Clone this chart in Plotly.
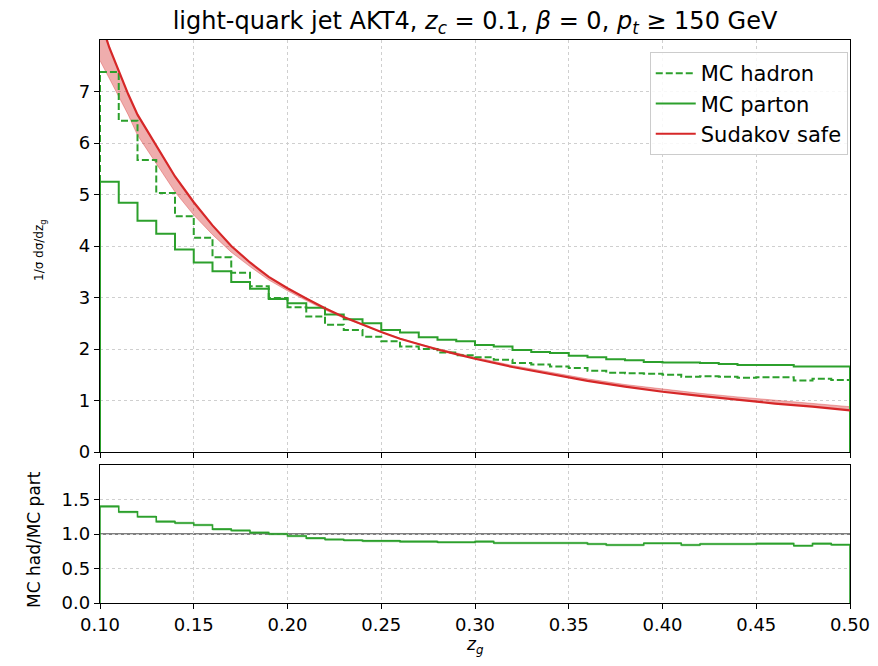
import plotly.graph_objects as go

# ---------------- data ----------------
bin_lo = [round(0.10 + 0.01 * i, 2) for i in range(40)]  # bin lower edges, width 0.01
bin_hi_last = 0.50

mc_hadron = [7.38, 6.43, 5.67, 5.03, 4.58, 4.16, 3.78, 3.48, 3.22, 2.99,
             2.81, 2.63, 2.47, 2.37, 2.24, 2.15, 2.05, 2.00, 1.93, 1.88,
             1.84, 1.79, 1.73, 1.70, 1.66, 1.63, 1.58, 1.54, 1.53, 1.52,
             1.50, 1.46, 1.47, 1.46, 1.44, 1.45, 1.45, 1.39, 1.42, 1.40]

mc_parton = [5.25, 4.84, 4.49, 4.24, 3.93, 3.68, 3.51, 3.30, 3.17, 2.97,
             2.89, 2.80, 2.67, 2.58, 2.50, 2.37, 2.32, 2.23, 2.18, 2.15,
             2.08, 2.05, 1.98, 1.94, 1.92, 1.87, 1.84, 1.80, 1.78, 1.75,
             1.74, 1.74, 1.73, 1.71, 1.69, 1.69, 1.69, 1.66, 1.66, 1.66]

ratio_had_part = [1.40, 1.32, 1.25, 1.18, 1.16, 1.13, 1.07, 1.05, 1.02, 1.00,
                  0.97, 0.94, 0.92, 0.91, 0.90, 0.90, 0.89, 0.89, 0.88, 0.88,
                  0.89, 0.87, 0.87, 0.87, 0.87, 0.87, 0.855, 0.84, 0.84, 0.865,
                  0.865, 0.84, 0.855, 0.855, 0.855, 0.86, 0.86, 0.83, 0.86, 0.845]

z_theory = [0.100, 0.105, 0.110, 0.115, 0.120, 0.130, 0.140, 0.150, 0.160, 0.170,
            0.180, 0.190, 0.200, 0.210, 0.220, 0.230, 0.240, 0.250, 0.260, 0.270,
            0.280, 0.290, 0.300, 0.320, 0.340, 0.350, 0.360, 0.380, 0.400, 0.420,
            0.440, 0.450, 0.460, 0.480, 0.500]
sudakov_central = [8.40, 7.85, 7.40, 6.95, 6.55, 5.95, 5.35, 4.85, 4.40, 4.00,
                   3.68, 3.40, 3.18, 2.98, 2.79, 2.62, 2.47, 2.33, 2.20, 2.09,
                   1.99, 1.90, 1.81, 1.65, 1.51, 1.44, 1.38, 1.27, 1.17, 1.09,
                   1.01, 0.98, 0.94, 0.88, 0.81]
sudakov_band_edge = [7.60, 7.25, 6.90, 6.55, 6.15, 5.60, 5.05, 4.60, 4.22, 3.88,
                     3.60, 3.34, 3.13, 2.94, 2.76, 2.60, 2.46, 2.33, 2.21, 2.10,
                     2.01, 1.92, 1.84, 1.68, 1.55, 1.48, 1.42, 1.31, 1.22, 1.14,
                     1.07, 1.04, 1.00, 0.94, 0.88]

ratio_band_half = 0.018

# ---------------- helpers ----------------
GREEN = "#2ca02c"
RED = "#d62728"
FONT = "DejaVu Sans"


def step_xy(vals, closed=True):
    xs = list(bin_lo) + [bin_hi_last]
    ys = list(vals) + [vals[-1]]
    if closed:
        xs = [bin_lo[0]] + xs + [bin_hi_last]
        ys = [0] + ys + [0]
    return xs, ys


fig = go.Figure()

# Sudakov band then line
fig.add_trace(go.Scatter(x=z_theory, y=sudakov_band_edge, mode="lines",
                         line=dict(color="rgba(214,39,40,0.35)", width=1),
                         showlegend=False, hoverinfo="skip", xaxis="x", yaxis="y"))
fig.add_trace(go.Scatter(x=z_theory, y=sudakov_central, mode="lines",
                         line=dict(color="rgba(0,0,0,0)", width=0),
                         fill="tonexty", fillcolor="rgba(214,39,40,0.38)",
                         showlegend=False, hoverinfo="skip", xaxis="x", yaxis="y"))

hx, hy = step_xy(mc_hadron)
fig.add_trace(go.Scatter(x=hx, y=hy, mode="lines", line_shape="hv",
                         line=dict(color=GREEN, width=2, dash="7px,3px"),
                         name="MC hadron", xaxis="x", yaxis="y"))
px_, py_ = step_xy(mc_parton)
fig.add_trace(go.Scatter(x=px_, y=py_, mode="lines", line_shape="hv",
                         line=dict(color=GREEN, width=2),
                         name="MC parton", xaxis="x", yaxis="y"))
fig.add_trace(go.Scatter(x=z_theory, y=sudakov_central, mode="lines",
                         line=dict(color=RED, width=2.2),
                         name="Sudakov safe", xaxis="x", yaxis="y"))

# ratio panel
lo = [r - ratio_band_half for r in ratio_had_part]
hi = [r + ratio_band_half for r in ratio_had_part]
lx, ly = step_xy(lo, closed=False)
ux, uy = step_xy(hi, closed=False)
fig.add_trace(go.Scatter(x=lx, y=ly, mode="lines", line_shape="hv",
                         line=dict(color="rgba(44,160,44,0)", width=0),
                         showlegend=False, hoverinfo="skip", xaxis="x2", yaxis="y2"))
fig.add_trace(go.Scatter(x=ux, y=uy, mode="lines", line_shape="hv",
                         line=dict(color="rgba(44,160,44,0)", width=0),
                         fill="tonexty", fillcolor="rgba(44,160,44,0.45)",
                         showlegend=False, hoverinfo="skip", xaxis="x2", yaxis="y2"))
rx, ry = step_xy(ratio_had_part)
fig.add_trace(go.Scatter(x=rx, y=ry, mode="lines", line_shape="hv",
                         line=dict(color=GREEN, width=1.6),
                         showlegend=False, xaxis="x2", yaxis="y2"))

# reference line at 1
fig.add_shape(type="line", xref="x2 domain", yref="y2", x0=0, x1=1, y0=1, y1=1,
              line=dict(color="#555555", width=1.3), layer="below")

axis_common = dict(showline=True, linecolor="black", linewidth=1.3, mirror=True,
                   ticks="outside", ticklen=5, tickwidth=1.2, tickcolor="black",
                   showgrid=True, gridcolor="#cfcfcf", griddash="dot", gridwidth=1,
                   zeroline=False, ticklabeloverflow="allow", automargin=False,
                   tickfont=dict(family=FONT, size=18, color="black"))

# page has an 8px body margin; figure is sized/offset so that it fits the window
FIG_W, FIG_H = 862, 650
H_PLOT = 563.0
PLOT_BOTTOM_PAGE = 603
top_bottom = (PLOT_BOTTOM_PAGE - 452) / H_PLOT
bot_top = (PLOT_BOTTOM_PAGE - 465) / H_PLOT

fig.update_layout(
    width=FIG_W, height=FIG_H,
    margin=dict(l=92, r=20, t=32, b=55, autoexpand=False),
    paper_bgcolor="white", plot_bgcolor="white",
    font=dict(family=FONT, color="black"),
    xaxis=dict(domain=[0, 1], anchor="y", range=[0.10, 0.50], dtick=0.05,
               showticklabels=False, matches="x2", **axis_common),
    yaxis=dict(domain=[top_bottom, 1], anchor="x", range=[0, 8.0],
               tickvals=[0, 1, 2, 3, 4, 5, 6, 7], **axis_common),
    xaxis2=dict(domain=[0, 1], anchor="y2", range=[0.10, 0.50], dtick=0.05,
                tickformat=".2f", **axis_common),
    yaxis2=dict(domain=[0, bot_top], anchor="x2", range=[0, 2.0],
                tickvals=[0, 0.5, 1.0, 1.5], tickformat=".1f", **axis_common),
    title=dict(text="light-quark jet AKT4, <i>z</i><sub><i>c</i></sub> = 0.1, <i>β</i> = 0, "
                    "<i>p</i><sub><i>t</i></sub> ≥ 150 GeV",
               x=0.5, xref="paper", xanchor="center",
               y=1 - 13 / FIG_H, yref="container", yanchor="middle",
               font=dict(family=FONT, size=24, color="black")),
    legend=dict(x=0.997, y=(PLOT_BOTTOM_PAGE - 52) / H_PLOT, xanchor="right", yanchor="top",
                bgcolor="rgba(255,255,255,0.85)", bordercolor="#cccccc", borderwidth=1,
                font=dict(family=FONT, size=21, color="black"),
                itemwidth=40, traceorder="normal"),
    showlegend=True,
    annotations=[
        dict(text="1/σ dσ/dz<sub>g</sub>", xref="paper", yref="paper",
             x=(40 - 100) / 750, y=(PLOT_BOTTOM_PAGE - 250) / H_PLOT,
             xanchor="center", yanchor="middle",
             textangle=-90, showarrow=False, font=dict(family=FONT, size=12, color="black")),
        dict(text="MC had/MC part", xref="paper", yref="paper",
             x=(34 - 100) / 750, y=(PLOT_BOTTOM_PAGE - 540) / H_PLOT,
             xanchor="center", yanchor="middle",
             textangle=-90, showarrow=False, font=dict(family=FONT, size=17, color="black")),
        dict(text="<i>z</i><sub><i>g</i></sub>", xref="paper", yref="paper",
             x=0.5, y=(PLOT_BOTTOM_PAGE - 645) / H_PLOT, xanchor="center", yanchor="middle",
             showarrow=False, font=dict(family=FONT, size=17, color="black")),
    ],
)

fig.write_html("out.html")
